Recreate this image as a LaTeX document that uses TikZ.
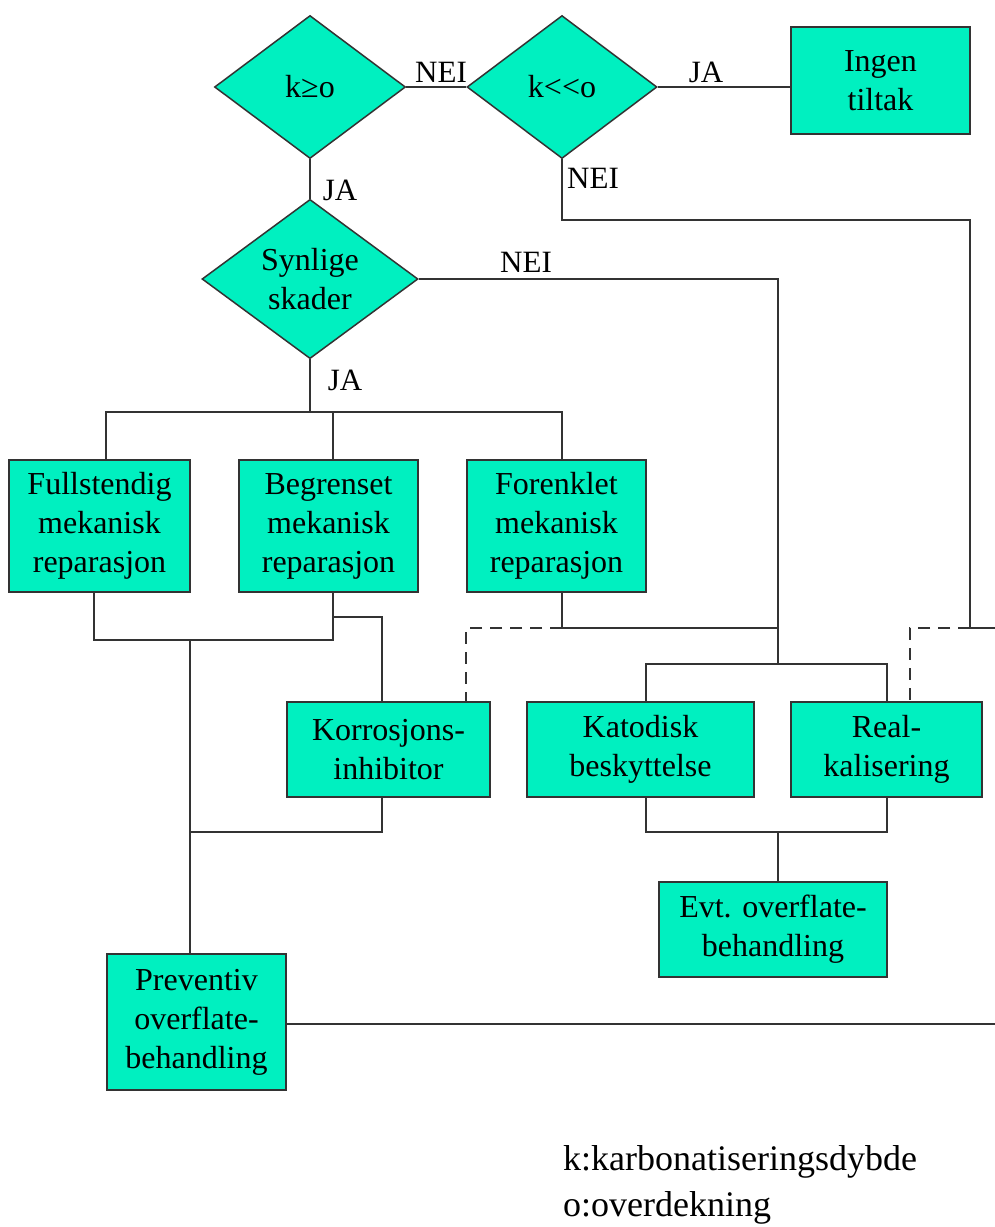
\documentclass[tikz,border=0pt]{standalone}
\usepackage{fontspec}
\newfontfamily\timesfont{Liberation Serif}
\usepackage{xcolor}
\usepackage{tikz}
\usetikzlibrary{shapes.geometric}
\definecolor{boxgreen}{RGB}{0,240,192}
\definecolor{linegray}{RGB}{51,51,51}

\begin{document}
\begin{tikzpicture}[x=1pt,y=-1pt,
box/.style={draw=linegray,line width=1.5pt,fill=boxgreen,align=center,inner sep=0pt,font=\timesfont\fontsize{32}{39}\selectfont},
choice/.style={shape=diamond,draw=linegray,line width=1.5pt,fill=boxgreen,align=center,inner sep=0pt,font=\timesfont\fontsize{32}{39}\selectfont},
lbl/.style={inner sep=0pt,font=\timesfont\fontsize{31}{39}\selectfont},
link/.style={draw=linegray,line width=2pt},
hint/.style={link,dash pattern=on 12pt off 8pt}]
\useasboundingbox[fill=white](0,0)rectangle(995,1227);
\node[choice,minimum width=191pt,minimum height=143pt](kgeo)at(310,87){k≥o};
\node[choice,minimum width=190pt,minimum height=143pt](kllo)at(562,87){k<\kern0pt<o};
\node[box,minimum width=179pt,minimum height=107pt](ingen)at(880.5,80.5){Ingen\\tiltak};
\node[choice,minimum width=216pt,minimum height=143pt](synlig)at(310,279){Synlige\\skader};
\node[box,minimum width=181pt,minimum height=132pt](full)at(99.5,526){Fullstendig\\mekanisk\\reparasjon};
\node[box,minimum width=179pt,minimum height=132pt](begr)at(328.5,526){Begrenset\\mekanisk\\reparasjon};
\node[box,minimum width=179pt,minimum height=132pt](fore)at(556.5,526){Forenklet\\mekanisk\\reparasjon};
\node[box,minimum width=203pt,minimum height=95pt](korr)at(388.5,749.5){Korrosjons-\\inhibitor};
\node[box,minimum width=227pt,minimum height=95pt](katod)at(640.5,749.5){Katodisk\\beskyttelse};
\node[box,minimum width=191pt,minimum height=95pt](realk)at(886.5,749.5){Real-\\kalisering};
\node[box,minimum width=228pt,minimum height=95pt](evt)at(773,929.5){Evt. overflate-\\behandling};
\node[box,minimum width=179pt,minimum height=136pt](prev)at(196.5,1022){Preventiv\\overflate-\\behandling};
\coordinate(rdrop)at(970,628);
\coordinate(edgeA)at(995,628);
\coordinate(edgeB)at(995,1024);
\coordinate(jasplit)at(310,412);
\coordinate(katsplit)at(778,664);
\coordinate(katjoin)at(778,832);
\coordinate(fulljoin)at(190,640);
\draw[link](kgeo.east)--(kllo.west);
\draw[link](kllo.east)--(kllo.east-|ingen.west);
\draw[link](kllo.south)--++(0,60.5)-|(rdrop)--(edgeA);
\draw[link](kgeo.south)--(synlig.north);
\draw[link](synlig.east)-|(katsplit);
\draw[link](synlig.south)--(jasplit);
\draw[link]([xshift=6.5pt]full.north)|-(jasplit)-|([xshift=5.5pt]fore.north);
\draw[link]([xshift=4.5pt]begr.north)--([xshift=4.5pt]begr.north|-jasplit);
\draw[link]([xshift=5.5pt]fore.south)|-(katsplit|-rdrop);
\draw[link]([xshift=5.5pt]katod.north)|-(katsplit)-|([xshift=.5pt]realk.north);
\draw[link]([xshift=5.5pt]katod.south)|-(katjoin)-|([xshift=.5pt]realk.south);
\draw[link](katjoin)--([xshift=5pt]evt.north);
\draw[link]([xshift=-5.5pt]full.south)|-([xshift=4.5pt]begr.south|-fulljoin)--([xshift=4.5pt]begr.south);
\draw[link]([xshift=4.5pt]begr.south)++(0,24)-|([xshift=-6.5pt]korr.north);
\draw[link](fulljoin)--([xshift=-6.5pt]prev.north);
\draw[link]([xshift=-6.5pt]korr.south)|-(fulljoin|-katjoin);
\draw[link](prev.east|-edgeB)--(edgeB);
\draw[hint]([xshift=5.5pt]fore.south|-rdrop)-|([xshift=77.5pt]korr.north);
\draw[hint](rdrop)-|([xshift=23.5pt]realk.north);
\node[lbl](nei1)at(441,72){NEI};
\node[lbl](ja1)at(706,72){JA};
\node[lbl](nei2)at(593,178){NEI};
\node[lbl](ja2)at(340,190){JA};
\node[lbl](nei3)at(526,262){NEI};
\node[lbl](ja3)at(345,380){JA};
\node[anchor=west,inner sep=0pt,font=\timesfont\fontsize{36}{44}\selectfont](keyk)at(563,1162){k:karbonatiseringsdybde};
\node[anchor=west,inner sep=0pt,font=\timesfont\fontsize{36}{44}\selectfont](keyo)at(563,1208){o:overdekning};
\end{tikzpicture}
\end{document}
